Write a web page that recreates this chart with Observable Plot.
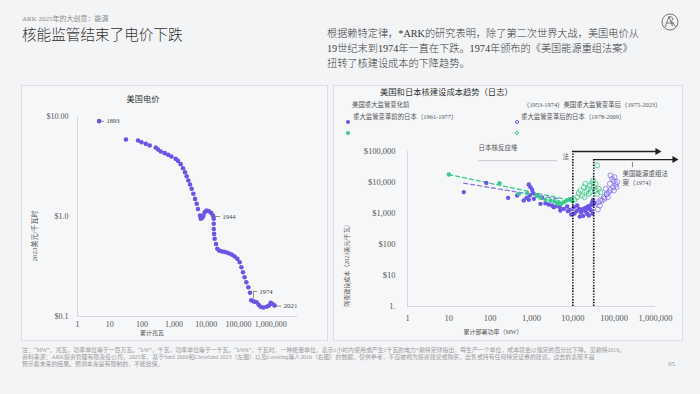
<!DOCTYPE html>
<html><head><meta charset="utf-8">
<script src="https://cdn.jsdelivr.net/npm/d3@7"></script>
<script src="https://cdn.jsdelivr.net/npm/@observablehq/plot@0.6"></script>
<style>
html,body{margin:0;padding:0;}
body{width:700px;height:394px;background:#f3f4f6;position:relative;overflow:hidden;font-family:"Liberation Serif","Noto Sans CJK SC",serif;color:#333;}
.abs{position:absolute;white-space:nowrap;line-height:1;transform:translateY(-50%);}
.rot{position:absolute;white-space:nowrap;line-height:1;transform:translate(-50%,-50%) rotate(-90deg);}
.ctr{position:absolute;white-space:nowrap;line-height:1;transform:translate(-50%,-50%);}
.panel{position:absolute;border:1px solid #dcdde1;background:#f6f7f9;box-sizing:border-box;}
.chart{position:absolute;}
.mk{position:absolute;width:4px;height:4px;border-radius:50%;transform:translate(-50%,-50%);box-sizing:border-box;}
.para{font-size:10.2px;font-weight:300;color:#3a3a3a;}
</style></head><body>
<div class="abs" style="left:22px;top:19px;font-size:7px;color:#8a8a8a;">ARK 2025年的大创意：能源</div>
<div class="abs" style="left:22px;top:35px;font-size:14.6px;color:#333;font-weight:300;">核能监管结束了电价下跌</div>
<div class="abs para" style="left:327px;top:34px;">根据赖特定律，*ARK的研究表明，除了第二次世界大战，美国电价从</div>
<div class="abs para" style="left:327px;top:49px;">19世纪末到1974年一直在下跌。1974年颁布的《美国能源重组法案》</div>
<div class="abs para" style="left:327px;top:64px;">扭转了核建设成本的下降趋势。</div>
<svg style="position:absolute;left:661px;top:13px" width="18" height="18" viewBox="0 0 18 18">
<circle cx="9" cy="9" r="8" fill="none" stroke="#555" stroke-width="0.8"/>
<path d="M4,14 L8,3.5 L11.5,13 M8,3.5 Q14,4 10.5,8.5 L14.5,13.5 M5.5,10 L13,10" fill="none" stroke="#555" stroke-width="0.8"/>
</svg>

<div class="panel" style="left:21px;top:85px;width:307px;height:256px;"></div>
<div class="panel" style="left:333px;top:85px;width:350px;height:256px;"></div>

<div class="ctr" style="left:143px;top:100px;font-size:8.2px;color:#333;">美国电价</div>
<div class="rot" style="left:35px;top:236px;font-size:7px;color:#555;">2023美元/千瓦时</div>
<div class="ctr" style="left:152px;top:333px;font-size:6px;color:#555;">累计兆瓦</div>

<div class="abs" style="left:380px;top:93px;font-size:8.3px;color:#333;">美国和日本核建设成本趋势（日志）</div>
<div class="abs" style="left:352px;top:105px;font-size:6.4px;color:#555;">美国重大监管变化前</div>
<div class="abs" style="left:523px;top:105px;font-size:6.4px;color:#555;">（1953-1974）美国重大监管变革后（1975-2023）</div>
<div class="abs" style="left:353px;top:117px;font-size:6.4px;color:#555;">重大监管变革前的日本（1961-1977）</div>
<div class="abs" style="left:521px;top:117px;font-size:6.4px;color:#555;">重大监管变革后的日本（1978-2009）</div>
<div class="mk" style="left:348px;top:122px;background:#6b55e6;"></div>
<div class="mk" style="left:348px;top:133px;background:#3cc98c;"></div>
<div class="mk" style="left:517px;top:122px;border:0.8px solid #6b55e6;"></div>
<div class="mk" style="left:517px;top:133px;border:0.8px solid #3cc98c;"></div>
<div class="rot" style="left:347px;top:264px;font-size:6px;color:#555;">隔夜建设成本（2023美元/千瓦）</div>
<div class="ctr" style="left:493px;top:332px;font-size:6px;color:#555;">累计部署功率（MW）</div>

<div class="abs" style="left:22px;top:350.5px;font-size:5.9px;color:#9a9a9a;">注：“MW”，兆瓦，功率单位等于一百万瓦。“kW”，千瓦，功率单位等于一千瓦。“kWh”，千瓦时，一种能量单位，表示1小时内使用或产生1千瓦的电力*赖特定律指出，每生产一个单位，成本就会以恒定的百分比下降。见赖特2019。</div>
<div class="abs" style="left:22px;top:357.5px;font-size:5.9px;color:#9a9a9a;">资料来源：ARK投资管理有限责任公司，2025年，基于Smil 2000和Cleveland 2023（左图）以及Lovering等人2016（右图）的数据，仅供参考，不应被视为投资建议或购买、出售或持有任何特定证券的建议。过去的表现不是</div>
<div class="abs" style="left:22px;top:364.5px;font-size:5.9px;color:#9a9a9a;">预示着未来的结果。预测本身是有限制的，不能担保。</div>
<div class="abs" style="left:668px;top:364px;font-size:7px;color:#9a9a9a;">95</div>

<div id="left" class="chart" style="left:21px;top:85px;"></div>
<div id="right" class="chart" style="left:333px;top:85px;"></div>

<script>
// ---- Left chart: US electricity price ----
const usCumulative = [4.7, 32, 76, 97, 132, 175, 270, 318, 385, 510, 650, 825, 1120, 1320, 1600, 1900, 2180, 2460, 2770, 3130, 3520, 3970, 4470, 5040, 5520, 6390, 6700, 7550, 8120, 8900, 10250, 12150, 14350, 16200, 17000, 17000, 17000, 17500, 18200, 20000, 22000, 24800, 29300, 35500, 43000, 52000, 63000, 76000, 92000, 109000, 123000, 138000, 155000, 175000, 202000, 228000, 250000, 302000, 365000, 423000, 487000, 590000, 748000, 884000, 1000000, 1150000, 1320000];
const usPrice = [8.98, 5.89, 5.75, 5.53, 5.33, 5.13, 4.9, 4.68, 4.47, 4.3, 4.14, 3.98, 3.77, 3.6, 3.34, 3.04, 2.77, 2.53, 2.29, 2.09, 1.89, 1.69, 1.50, 1.34, 1.19, 1.02, 0.95, 0.97, 1.02, 1.10, 1.15, 1.13, 1.08, 1.02, 0.95, 0.845, 0.75, 0.67, 0.60, 0.53, 0.475, 0.457, 0.45, 0.443, 0.436, 0.427, 0.414, 0.398, 0.377, 0.349, 0.311, 0.277, 0.247, 0.22, 0.196, 0.173, 0.145, 0.141, 0.139, 0.131, 0.125, 0.123, 0.125, 0.129, 0.137, 0.133, 0.129];
const leftXTicks = [1, 10, 100, 1000, 10000, 100000, 1000000];
const leftXLabels = ["1", "10", "100", "1,000", "10,000", "100,000", "1,000,000"];
const leftYTicks = [0.1, 1, 10];
const leftYLabels = ["$0.1", "$1.0", "$10.00"];
// year labels: point, leader end, label
const yearLabels = ["1893", "1944", "2021"];
const yearX1 = [5.2, 16600, 1410000];
const yearX2 = [6.9, 27600, 2180000];
const yearY = [8.95, 1.0, 0.127];
const year1974 = {x: 292000, y1: 0.15, y2: 0.178, x2: 390000, label: "1974"};

// ---- Right chart: US & Japan construction costs ----
const usPreMW = [23, 81, 272, 450, 860, 946, 1040, 1100, 910, 760, 650, 860, 1140, 1370, 1810, 1650, 2180, 2620, 3160, 4030, 4840, 6050, 7290, 8460, 9120, 10570, 12270, 13960, 15850, 14800, 17800, 20200, 22200, 24400, 26700, 29400, 31000, 24400, 18450, 12700, 7570, 5010, 3470, 20000, 27000, 30000, 16000, 11000, 23000, 29000, 33000];
const usPreCost = [4900, 9700, 3200, 3800, 8600, 7080, 5800, 4530, 3800, 3200, 2630, 2760, 2970, 3800, 3200, 2050, 2150, 1950, 1810, 1770, 1600, 1410, 1680, 1310, 930, 1600, 1190, 1410, 1100, 800, 840, 1190, 977, 1410, 1810, 2320, 2760, 861, 1410, 1810, 1190, 1250, 1600, 1500, 1300, 1000, 1350, 1000, 1700, 1900, 2100];
const jpPreMW = [10, 168, 494, 785, 1320, 1650, 2180, 2880, 3600, 4580, 5220, 6050, 7030, 8150, 9120, 9820, 4180];
const jpPreCost = [18100, 9510, 4310, 4530, 3800, 3200, 2760, 2630, 2500, 2320, 2050, 2320, 2630, 2830, 2970, 2500, 2050];
const jpPostMW = [38800, 15300, 18450, 20200, 23000, 25800, 29400, 32200, 35300, 38800, 42600, 46700, 24400, 16800, 12700, 11000, 26700, 21400, 35300, 31000, 13960, 19100];
const jpPostCost = [35300, 5520, 7080, 9060, 6250, 8000, 9510, 7080, 5520, 4310, 6250, 4880, 4310, 3800, 3360, 2760, 4880, 5250, 9060, 11600, 4530, 3360];
const usPostMW = [81500, 89500, 98200, 108000, 94600, 81500, 74300, 65300, 56300, 46700, 42600, 40300, 51300, 70300, 98200, 114000, 118000, 102000, 67700, 58300, 36000, 45000, 78500, 62800];
const usPostCost = [16800, 13100, 11000, 8610, 7080, 5800, 4880, 4100, 3360, 2760, 2320, 1350, 2630, 3360, 5520, 7080, 10250, 14900, 4310, 2970, 2050, 1810, 9060, 6250];
const jpTrendMW = [10, 6050], jpTrendCost = [18100, 2970];
const usTrendMW = [23, 5000], usTrendCost = [9510, 2900];
const rightXTicks = [1, 10, 100, 1000, 10000, 100000, 1000000];
const rightXLabels = ["1", "10", "100", "1,000", "10,000", "100,000", "1,000,000"];
const rightYTicks = [1, 10, 100, 1000, 10000, 100000];
const rightYLabels = ["1.", "$10", "$100", "$1,000", "$10,000", "$100,000"];
// regulation markers (cumulative MW at regulation change), arrow tops and ends
const regMW = [10000, 32000];
const regTop = [100000, 55000];
const regArrowEnd = [1180000, 3040000];
const noteText = ["日本核反应堆", "法", "美国能源重组法", "案（1974）"];
const noteMW = [52, 5600, 160000, 160000];
const noteCost = [135000, 69000, 19500, 10000];

const PURPLE = "#6b55e6", GREEN = "#3cc98c";
const FONT = "Liberation Serif, Noto Sans CJK SC, serif";
const zip = (xs, ys) => xs.map((x, i) => ({x, y: ys[i]}));

const leftPlot = Plot.plot({
  width: 307, height: 256,
  marginLeft: 56, marginRight: 31, marginTop: 31, marginBottom: 25,
  style: {background: "none", overflow: "visible", fontFamily: FONT, fontSize: "8px", color: "#555"},
  x: {type: "log", domain: [1, 6.8e6], ticks: leftXTicks, tickFormat: d => leftXLabels[leftXTicks.indexOf(d)], tickSize: 0, tickPadding: 5, label: null},
  y: {type: "log", domain: [0.1, 10], ticks: leftYTicks, tickFormat: d => leftYLabels[leftYTicks.indexOf(d)], tickSize: 0, tickPadding: 9, label: null},
  marks: [
    Plot.ruleX([1], {stroke: "#d6d7da"}),
    Plot.ruleY([0.1], {stroke: "#d6d7da"}),
    Plot.dot(zip(usCumulative, usPrice), {x: "x", y: "y", r: 2.3, fill: PURPLE}),
    Plot.ruleY(yearLabels.map((l, i) => ({l, x1: yearX1[i], x2: yearX2[i], y: yearY[i]})), {y: "y", x1: "x1", x2: "x2", stroke: "#666", strokeWidth: 0.7}),
    Plot.text(yearLabels.map((l, i) => ({l, x: yearX2[i], y: yearY[i]})), {x: "x", y: "y", text: "l", textAnchor: "start", dx: 2, fontSize: d => d.l === "2021" ? 7 : 6.5, fill: "#444"}),
    Plot.ruleX([year1974], {x: "x", y1: "y1", y2: "y2", stroke: "#666", strokeWidth: 0.7}),
    Plot.ruleY([year1974], {y: "y2", x1: "x", x2: "x2", stroke: "#666", strokeWidth: 0.7}),
    Plot.text([year1974], {x: "x2", y: "y2", text: "label", textAnchor: "start", dx: 2, fontSize: 6.5, fill: "#444"})
  ]
});
document.getElementById("left").appendChild(leftPlot);

const arrows = regMW.map((x, i) => ({x1: x, x2: regArrowEnd[i], y: regTop[i]}));
const rightPlot = Plot.plot({
  width: 350, height: 256,
  marginLeft: 74, marginRight: 28, marginTop: 66, marginBottom: 35,
  style: {background: "none", overflow: "visible", fontFamily: FONT, fontSize: "8.5px", color: "#555"},
  x: {type: "log", domain: [1, 1e6], ticks: rightXTicks, tickFormat: d => rightXLabels[rightXTicks.indexOf(d)], tickSize: 0, tickPadding: 8, label: null},
  y: {type: "log", domain: [1, 1e5], ticks: rightYTicks, tickFormat: d => rightYLabels[rightYTicks.indexOf(d)], tickSize: 0, tickPadding: 12, label: null},
  marks: [
    Plot.ruleX([1], {stroke: "#d6d7da"}),
    Plot.ruleY([1], {stroke: "#d6d7da"}),
    Plot.line(zip(jpTrendMW, jpTrendCost), {x: "x", y: "y", stroke: GREEN, strokeWidth: 1.3, strokeDasharray: "4,3"}),
    Plot.line(zip(usTrendMW, usTrendCost), {x: "x", y: "y", stroke: "#8a78ea", strokeWidth: 1.3, strokeDasharray: "4,3"}),
    Plot.dot(zip(usPostMW, usPostCost), {x: "x", y: "y", r: 2.5, fill: "none", stroke: "#8a72ee", strokeWidth: 0.8}),
    Plot.dot(zip(jpPostMW, jpPostCost), {x: "x", y: "y", r: 2.5, fill: "none", stroke: GREEN, strokeWidth: 0.8}),
    Plot.dot(zip(usPreMW, usPreCost), {x: "x", y: "y", r: 2.2, fill: PURPLE}),
    Plot.dot(zip(jpPreMW, jpPreCost), {x: "x", y: "y", r: 2.2, fill: GREEN}),
    Plot.ruleX(arrows, {x: "x1", y1: 1, y2: "y", stroke: "#111", strokeWidth: 1.6, strokeDasharray: "1.4,1.4"}),
    Plot.ruleY(arrows, {y: "y", x1: "x1", x2: "x2", stroke: "#222", strokeWidth: 1.3}),
    Plot.dot(arrows, {x: "x2", y: "y", symbol: "triangle", rotate: 90, r: 2.6, fill: "#222", dx: -1}),
    Plot.ruleY([{y: 51000, x1: 52, x2: 4270}], {y: "y", x1: "x1", x2: "x2", stroke: "#cfd0d3", strokeWidth: 1.2}),
    Plot.ruleX([{x: 277000, y1: 30000, y2: 44000}], {x: "x", y1: "y1", y2: "y2", stroke: "#555", strokeWidth: 0.7}),
    Plot.text(noteText.map((t, i) => ({t, x: noteMW[i], y: noteCost[i]})), {x: "x", y: "y", text: "t", textAnchor: "start", fontSize: 6.5, fill: "#555"})
  ]
});
document.getElementById("right").appendChild(rightPlot);
</script>
</body></html>
